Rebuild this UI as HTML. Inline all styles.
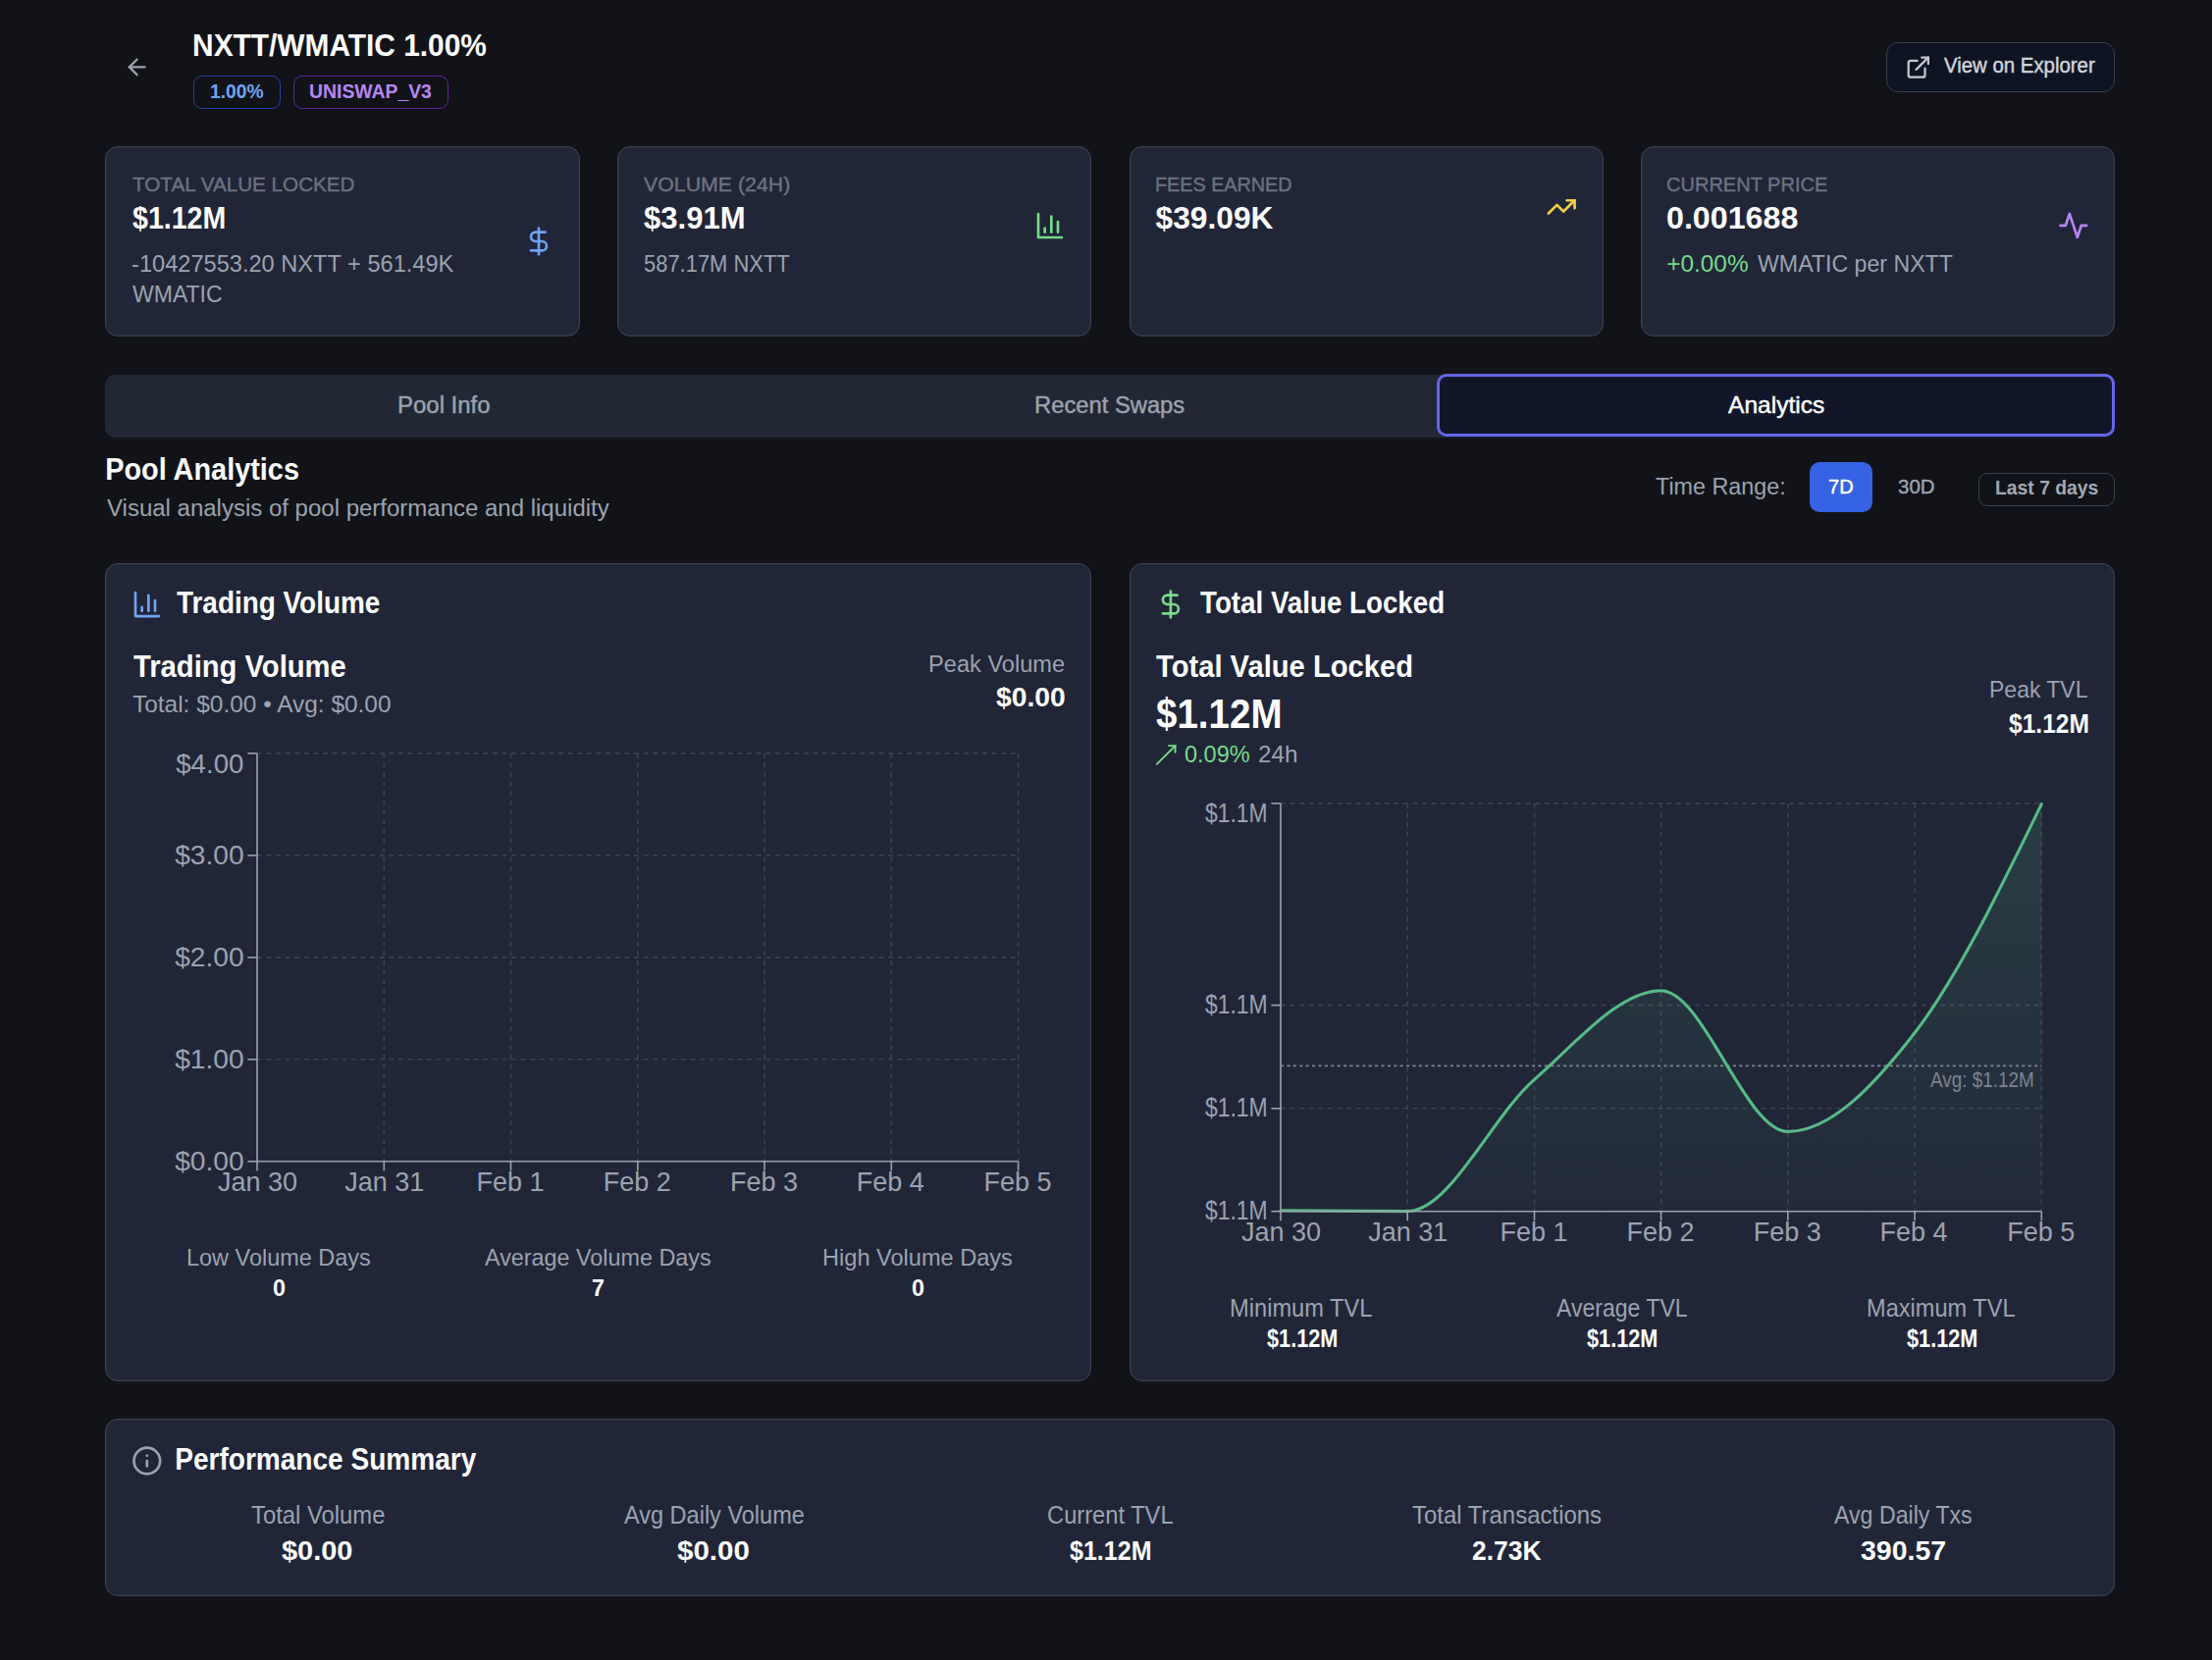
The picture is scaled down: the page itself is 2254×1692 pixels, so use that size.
<!DOCTYPE html>
<html><head><meta charset="utf-8"><style>
html,body{margin:0;padding:0;}
body{width:2254px;height:1692px;background:#111318;position:relative;overflow:hidden;font-family:"Liberation Sans",sans-serif;}
.b{position:absolute;box-sizing:border-box;}
.card{background:#202538;border:1px solid #3a4151;box-shadow:inset 0 0 0 0.6px #2e3546;border-radius:12.8px;}
span{position:absolute;white-space:pre;line-height:1;}
svg{position:absolute;left:0;top:0;}
</style></head><body>

<div class="b" style="left:197.2px;top:77px;width:88.5px;height:33.6px;border:1.6px solid #263fa9;border-radius:9px;"></div>
<div class="b" style="left:299px;top:77px;width:158px;height:33.6px;border:1.6px solid #6326a2;border-radius:9px;"></div>
<div class="b" style="left:1922px;top:43px;width:232.7px;height:50.8px;border:1.6px solid #3a4150;background:#0f1424;border-radius:12px;"></div>
<div class="b card" style="left:107px;top:149px;width:484px;height:194px;"></div>
<div class="b card" style="left:628.6px;top:149px;width:483.4px;height:194px;"></div>
<div class="b card" style="left:1151px;top:149px;width:483px;height:194px;"></div>
<div class="b card" style="left:1672px;top:149px;width:483px;height:194px;"></div>

<div class="b" style="left:107px;top:381.9px;width:2048px;height:63.9px;background:#212735;border-radius:10px;"></div>
<div class="b" style="left:1464.4px;top:381.4px;width:690.4px;height:64.1px;border:3.5px solid #6466e9;background:#111629;border-radius:10px;"></div>
<div class="b" style="left:1844px;top:471px;width:63.8px;height:50.9px;background:#3662e3;border-radius:10px;"></div>
<div class="b" style="left:2016.3px;top:482px;width:138.4px;height:33.6px;border:1.6px solid #3a4150;border-radius:9px;"></div>
<div class="b card" style="left:107px;top:574px;width:1005px;height:833.5px;"></div>
<div class="b card" style="left:1151px;top:574px;width:1004px;height:833.5px;"></div>
<div class="b card" style="left:107px;top:1446.3px;width:2048px;height:181px;"></div>

<svg width="2254" height="1692" viewBox="0 0 2254 1692"><defs><linearGradient id="tvlg" x1="0" y1="819" x2="0" y2="1234.4" gradientUnits="userSpaceOnUse"><stop offset="0" stop-color="#55b685" stop-opacity="0.17"/><stop offset="1" stop-color="#55b685" stop-opacity="0.03"/></linearGradient></defs>
<line x1="262" y1="767.9" x2="1037.6" y2="767.9" stroke="#3a4151" stroke-width="1.6" stroke-dasharray="4.8 4.8" />
<line x1="262" y1="871.9" x2="1037.6" y2="871.9" stroke="#3a4151" stroke-width="1.6" stroke-dasharray="4.8 4.8" />
<line x1="262" y1="975.9" x2="1037.6" y2="975.9" stroke="#3a4151" stroke-width="1.6" stroke-dasharray="4.8 4.8" />
<line x1="262" y1="1079.8" x2="1037.6" y2="1079.8" stroke="#3a4151" stroke-width="1.6" stroke-dasharray="4.8 4.8" />
<line x1="391.3" y1="767.9" x2="391.3" y2="1183.8" stroke="#3a4151" stroke-width="1.6" stroke-dasharray="4.8 4.8" />
<line x1="520.5" y1="767.9" x2="520.5" y2="1183.8" stroke="#3a4151" stroke-width="1.6" stroke-dasharray="4.8 4.8" />
<line x1="649.8" y1="767.9" x2="649.8" y2="1183.8" stroke="#3a4151" stroke-width="1.6" stroke-dasharray="4.8 4.8" />
<line x1="779" y1="767.9" x2="779" y2="1183.8" stroke="#3a4151" stroke-width="1.6" stroke-dasharray="4.8 4.8" />
<line x1="908.3" y1="767.9" x2="908.3" y2="1183.8" stroke="#3a4151" stroke-width="1.6" stroke-dasharray="4.8 4.8" />
<line x1="1037.6" y1="767.9" x2="1037.6" y2="1183.8" stroke="#3a4151" stroke-width="1.6" stroke-dasharray="4.8 4.8" />
<line x1="262" y1="767.9" x2="262" y2="1183.8" stroke="#9ca3af" stroke-width="1.6" />
<line x1="262" y1="1183.8" x2="1037.6" y2="1183.8" stroke="#9ca3af" stroke-width="1.6" />
<line x1="252.4" y1="767.9" x2="262" y2="767.9" stroke="#9ca3af" stroke-width="1.6" />
<line x1="252.4" y1="871.9" x2="262" y2="871.9" stroke="#9ca3af" stroke-width="1.6" />
<line x1="252.4" y1="975.9" x2="262" y2="975.9" stroke="#9ca3af" stroke-width="1.6" />
<line x1="252.4" y1="1079.8" x2="262" y2="1079.8" stroke="#9ca3af" stroke-width="1.6" />
<line x1="252.4" y1="1183.8" x2="262" y2="1183.8" stroke="#9ca3af" stroke-width="1.6" />
<line x1="262" y1="1183.8" x2="262" y2="1193.4" stroke="#9ca3af" stroke-width="1.6" />
<line x1="391.3" y1="1183.8" x2="391.3" y2="1193.4" stroke="#9ca3af" stroke-width="1.6" />
<line x1="520.5" y1="1183.8" x2="520.5" y2="1193.4" stroke="#9ca3af" stroke-width="1.6" />
<line x1="649.8" y1="1183.8" x2="649.8" y2="1193.4" stroke="#9ca3af" stroke-width="1.6" />
<line x1="779" y1="1183.8" x2="779" y2="1193.4" stroke="#9ca3af" stroke-width="1.6" />
<line x1="908.3" y1="1183.8" x2="908.3" y2="1193.4" stroke="#9ca3af" stroke-width="1.6" />
<line x1="1037.6" y1="1183.8" x2="1037.6" y2="1193.4" stroke="#9ca3af" stroke-width="1.6" />
<line x1="1305" y1="818.9" x2="2080.3" y2="818.9" stroke="#3a4151" stroke-width="1.6" stroke-dasharray="4.8 4.8" />
<line x1="1305" y1="1024.6" x2="2080.3" y2="1024.6" stroke="#3a4151" stroke-width="1.6" stroke-dasharray="4.8 4.8" />
<line x1="1305" y1="1129.8" x2="2080.3" y2="1129.8" stroke="#3a4151" stroke-width="1.6" stroke-dasharray="4.8 4.8" />
<line x1="1434.2" y1="819" x2="1434.2" y2="1234.4" stroke="#3a4151" stroke-width="1.6" stroke-dasharray="4.8 4.8" />
<line x1="1563.5" y1="819" x2="1563.5" y2="1234.4" stroke="#3a4151" stroke-width="1.6" stroke-dasharray="4.8 4.8" />
<line x1="1692.6" y1="819" x2="1692.6" y2="1234.4" stroke="#3a4151" stroke-width="1.6" stroke-dasharray="4.8 4.8" />
<line x1="1821.8" y1="819" x2="1821.8" y2="1234.4" stroke="#3a4151" stroke-width="1.6" stroke-dasharray="4.8 4.8" />
<line x1="1951.1" y1="819" x2="1951.1" y2="1234.4" stroke="#3a4151" stroke-width="1.6" stroke-dasharray="4.8 4.8" />
<line x1="2080.3" y1="819" x2="2080.3" y2="1234.4" stroke="#3a4151" stroke-width="1.6" stroke-dasharray="4.8 4.8" />
<path d="M1305.00,1233.70C1348.07,1234.15 1391.13,1234.60 1434.20,1234.60C1477.30,1234.60 1520.40,1137.78 1563.50,1100.30C1606.53,1062.87 1649.57,1009.80 1692.60,1009.80C1735.67,1009.80 1778.73,1153.40 1821.80,1153.40C1864.90,1153.40 1908.00,1108.39 1951.10,1052.70C1994.17,997.05 2037.23,908.28 2080.30,819.50L2080.30,1234.4L1305.00,1234.4Z" fill="url(#tvlg)" stroke="none"/>
<line x1="1305" y1="1086.3" x2="2080.3" y2="1086.3" stroke="#7f8592" stroke-width="1.8" stroke-dasharray="3.2 3.2" />
<path d="M1305.00,1233.70C1348.07,1234.15 1391.13,1234.60 1434.20,1234.60C1477.30,1234.60 1520.40,1137.78 1563.50,1100.30C1606.53,1062.87 1649.57,1009.80 1692.60,1009.80C1735.67,1009.80 1778.73,1153.40 1821.80,1153.40C1864.90,1153.40 1908.00,1108.39 1951.10,1052.70C1994.17,997.05 2037.23,908.28 2080.30,819.50" fill="none" stroke="#55bb88" stroke-width="3.1" stroke-linejoin="round" stroke-linecap="round"/>
<line x1="1305" y1="818.9" x2="1305" y2="1234.7" stroke="#9ca3af" stroke-width="1.6" />
<line x1="1305" y1="1234.7" x2="2080.3" y2="1234.7" stroke="#9ca3af" stroke-width="1.6" />
<line x1="1295.4" y1="818.9" x2="1305" y2="818.9" stroke="#9ca3af" stroke-width="1.6" />
<line x1="1295.4" y1="1024.6" x2="1305" y2="1024.6" stroke="#9ca3af" stroke-width="1.6" />
<line x1="1295.4" y1="1129.8" x2="1305" y2="1129.8" stroke="#9ca3af" stroke-width="1.6" />
<line x1="1295.4" y1="1234.7" x2="1305" y2="1234.7" stroke="#9ca3af" stroke-width="1.6" />
<line x1="1305" y1="1234.7" x2="1305" y2="1244.3" stroke="#9ca3af" stroke-width="1.6" />
<line x1="1434.2" y1="1234.7" x2="1434.2" y2="1244.3" stroke="#9ca3af" stroke-width="1.6" />
<line x1="1563.5" y1="1234.7" x2="1563.5" y2="1244.3" stroke="#9ca3af" stroke-width="1.6" />
<line x1="1692.6" y1="1234.7" x2="1692.6" y2="1244.3" stroke="#9ca3af" stroke-width="1.6" />
<line x1="1821.8" y1="1234.7" x2="1821.8" y2="1244.3" stroke="#9ca3af" stroke-width="1.6" />
<line x1="1951.1" y1="1234.7" x2="1951.1" y2="1244.3" stroke="#9ca3af" stroke-width="1.6" />
<line x1="2080.3" y1="1234.7" x2="2080.3" y2="1244.3" stroke="#9ca3af" stroke-width="1.6" />
<g transform="translate(126.13999999999999,54.84) scale(1.1291666666666667)" fill="none" stroke="#9ca3af" stroke-width="2" stroke-linecap="round" stroke-linejoin="round"><path d="m12 19-7-7 7-7"/><path d="M19 12H5"/></g>
<g transform="translate(1941.36,55.16) scale(1.1208333333333333)" fill="none" stroke="#c6cad2" stroke-width="2" stroke-linecap="round" stroke-linejoin="round"><path d="M15 3h6v6"/><path d="M10 14 21 3"/><path d="M18 13v6a2 2 0 0 1-2 2H5a2 2 0 0 1-2-2V8a2 2 0 0 1 2-2h6"/></g>
<g transform="translate(533,230) scale(1.3333333333333333)" fill="none" stroke="#70a3f3" stroke-width="2" stroke-linecap="round" stroke-linejoin="round"><line x1="12" x2="12" y1="2" y2="22"/><path d="M17 5H9.5a3.5 3.5 0 0 0 0 7h5a3.5 3.5 0 0 1 0 7H6"/></g>
<g transform="translate(1054,214) scale(1.3333333333333333)" fill="none" stroke="#77db89" stroke-width="2" stroke-linecap="round" stroke-linejoin="round"><path d="M3 3v18h18"/><path d="M18 17V9"/><path d="M13 17V5"/><path d="M8 17v-3"/></g>
<g transform="translate(1575.2,194.9) scale(1.3333333333333333)" fill="none" stroke="#f3ce49" stroke-width="2" stroke-linecap="round" stroke-linejoin="round"><polyline points="22 7 13.5 15.5 8.5 10.5 2 17"/><polyline points="16 7 22 7 22 13"/></g>
<g transform="translate(2096.8,213.9) scale(1.3333333333333333)" fill="none" stroke="#b787f5" stroke-width="2" stroke-linecap="round" stroke-linejoin="round"><polyline points="22 12 18 12 15 21 9 3 6 12 2 12"/></g>
<g transform="translate(134,600.1) scale(1.3333333333333333)" fill="none" stroke="#70a3f3" stroke-width="2" stroke-linecap="round" stroke-linejoin="round"><path d="M3 3v18h18"/><path d="M18 17V9"/><path d="M13 17V5"/><path d="M8 17v-3"/></g>
<g transform="translate(1176.9,600) scale(1.3333333333333333)" fill="none" stroke="#77db89" stroke-width="2" stroke-linecap="round" stroke-linejoin="round"><line x1="12" x2="12" y1="2" y2="22"/><path d="M17 5H9.5a3.5 3.5 0 0 0 0 7h5a3.5 3.5 0 0 1 0 7H6"/></g>
<g transform="translate(133.8,1473) scale(1.3333333333333333)" fill="none" stroke="#9ca3af" stroke-width="2" stroke-linecap="round" stroke-linejoin="round"><circle cx="12" cy="12" r="10"/><path d="M12 16v-4"/><path d="M12 8h.01"/></g>
<g stroke="#77db89" stroke-width="1.9" stroke-linecap="round" fill="none"><path d="M1178.8,778.9 L1197.6,760.1"/><path d="M1191,760.1 H1197.6 V766.7"/></g>
</svg>
<span style="left:195.80px;top:31.79px;font-size:30.96px;font-weight:700;color:#ffffff;transform:scaleX(0.9648);transform-origin:2.00px 0;">NXTT/WMATIC 1.00%</span>
<span style="left:213.50px;top:82.87px;font-size:20.35px;font-weight:600;color:#70a3f3;transform:scaleX(0.9458);transform-origin:1.00px 0;">1.00%</span>
<span style="left:315.40px;top:82.87px;font-size:20.35px;font-weight:600;color:#b787f5;transform:scaleX(0.9519);transform-origin:1.00px 0;">UNISWAP_V3</span>
<span style="left:1981.40px;top:57.21px;font-size:21.37px;font-weight:500;color:#d1d5db;transform:scaleX(0.9543);transform-origin:0.00px 0;-webkit-text-stroke:0.45px currentColor;">View on Explorer</span>
<span style="left:134.50px;top:177.70px;font-size:20.78px;font-weight:500;color:#6b7280;transform:scaleX(0.9948);transform-origin:0.00px 0;-webkit-text-stroke:0.45px currentColor;">TOTAL VALUE LOCKED</span>
<span style="left:656.20px;top:177.70px;font-size:20.78px;font-weight:500;color:#6b7280;transform:scaleX(1.0265);transform-origin:0.00px 0;-webkit-text-stroke:0.45px currentColor;">VOLUME (24H)</span>
<span style="left:1176.60px;top:177.70px;font-size:20.78px;font-weight:500;color:#6b7280;transform:scaleX(0.9519);transform-origin:1.00px 0;-webkit-text-stroke:0.45px currentColor;">FEES EARNED</span>
<span style="left:1698.20px;top:177.70px;font-size:20.78px;font-weight:500;color:#6b7280;transform:scaleX(0.9639);transform-origin:1.00px 0;-webkit-text-stroke:0.45px currentColor;">CURRENT PRICE</span>
<span style="left:134.50px;top:207.17px;font-size:31.69px;font-weight:700;color:#ffffff;transform:scaleX(0.9016);transform-origin:0.00px 0;">$1.12M</span>
<span style="left:656.20px;top:207.17px;font-size:31.69px;font-weight:700;color:#ffffff;transform:scaleX(0.9793);transform-origin:0.00px 0;">$3.91M</span>
<span style="left:1177.60px;top:207.17px;font-size:31.69px;font-weight:700;color:#ffffff;">$39.09K</span>
<span style="left:1698.20px;top:207.17px;font-size:31.69px;font-weight:700;color:#ffffff;transform:scaleX(1.0162);transform-origin:1.00px 0;">0.001688</span>
<span style="left:133.50px;top:256.52px;font-size:24.42px;font-weight:400;color:#9ca3af;transform:scaleX(0.9672);transform-origin:1.00px 0;">-10427553.20 NXTT + 561.49K</span>
<span style="left:134.50px;top:287.95px;font-size:24.27px;font-weight:400;color:#9ca3af;transform:scaleX(0.9483);transform-origin:0.00px 0;">WMATIC</span>
<span style="left:656.20px;top:256.52px;font-size:24.42px;font-weight:400;color:#9ca3af;transform:scaleX(0.8987);transform-origin:0.00px 0;">587.17M NXTT</span>
<span style="left:1698.20px;top:256.52px;font-size:24.42px;font-weight:400;color:#77db89;">+0.00%</span>
<span style="left:1790.70px;top:256.52px;font-size:24.42px;font-weight:400;color:#9ca3af;transform:scaleX(0.9485);transform-origin:0.00px 0;">WMATIC per NXTT</span>
<span style="left:405.00px;top:401.12px;font-size:24.42px;font-weight:500;color:#9ca3af;transform:scaleX(0.9812);transform-origin:2.00px 0;-webkit-text-stroke:0.45px currentColor;">Pool Info</span>
<span style="left:1054.00px;top:401.12px;font-size:24.42px;font-weight:500;color:#9ca3af;transform:scaleX(0.9732);transform-origin:2.00px 0;-webkit-text-stroke:0.45px currentColor;">Recent Swaps</span>
<span style="left:1760.80px;top:401.45px;font-size:24.27px;font-weight:500;color:#ffffff;transform:scaleX(1.0127);transform-origin:0.00px 0;-webkit-text-stroke:0.45px currentColor;">Analytics</span>
<span style="left:106.50px;top:463.79px;font-size:30.96px;font-weight:700;color:#ffffff;transform:scaleX(0.9325);transform-origin:2.00px 0;">Pool Analytics</span>
<span style="left:108.50px;top:505.92px;font-size:24.42px;font-weight:400;color:#9ca3af;transform:scaleX(0.9831);transform-origin:0.00px 0;">Visual analysis of pool performance and liquidity</span>
<span style="left:1686.80px;top:484.12px;font-size:24.42px;font-weight:400;color:#9ca3af;transform:scaleX(0.9560);transform-origin:0.00px 0;">Time Range:</span>
<span style="left:1862.60px;top:486.05px;font-size:20.49px;font-weight:500;color:#ffffff;transform:scaleX(0.9798);transform-origin:1.00px 0;-webkit-text-stroke:0.45px currentColor;">7D</span>
<span style="left:1934.00px;top:486.05px;font-size:20.49px;font-weight:500;color:#9ca3af;-webkit-text-stroke:0.45px currentColor;">30D</span>
<span style="left:2033.00px;top:487.40px;font-size:20.78px;font-weight:600;color:#a3a9b4;transform:scaleX(0.9304);transform-origin:1.00px 0;">Last 7 days</span>
<span style="left:180.20px;top:599.49px;font-size:31.54px;font-weight:700;color:#ffffff;transform:scaleX(0.8851);transform-origin:0.00px 0;">Trading Volume</span>
<span style="left:135.50px;top:664.16px;font-size:30.52px;font-weight:700;color:#ffffff;transform:scaleX(0.9567);transform-origin:0.00px 0;">Trading Volume</span>
<span style="left:135.00px;top:706.38px;font-size:24.71px;font-weight:400;color:#9ca3af;transform:scaleX(0.9893);transform-origin:0.00px 0;">Total: $0.00 • Avg: $0.00</span>
<span style="left:946.10px;top:664.72px;font-size:24.42px;font-weight:400;color:#9ca3af;transform:scaleX(0.9671);transform-origin:2.00px 0;">Peak Volume</span>
<span style="left:1014.50px;top:697.37px;font-size:27.91px;font-weight:700;color:#ffffff;transform:scaleX(1.0132);transform-origin:0.00px 0;">$0.00</span>
<span style="left:179.26px;top:764.62px;font-size:27.62px;font-weight:400;color:#9ca3af;">$4.00</span>
<span style="left:178.14px;top:857.23px;font-size:28.20px;font-weight:400;color:#9ca3af;">$3.00</span>
<span style="left:178.14px;top:961.03px;font-size:28.20px;font-weight:400;color:#9ca3af;">$2.00</span>
<span style="left:178.14px;top:1065.13px;font-size:28.20px;font-weight:400;color:#9ca3af;">$1.00</span>
<span style="left:178.14px;top:1168.93px;font-size:28.20px;font-weight:400;color:#9ca3af;">$0.00</span>
<span style="left:221.96px;top:1192.01px;font-size:27.03px;font-weight:400;color:#9ca3af;">Jan 30</span>
<span style="left:351.26px;top:1192.01px;font-size:27.03px;font-weight:400;color:#9ca3af;">Jan 31</span>
<span style="left:485.47px;top:1192.01px;font-size:27.03px;font-weight:400;color:#9ca3af;">Feb 1</span>
<span style="left:614.77px;top:1192.01px;font-size:27.03px;font-weight:400;color:#9ca3af;">Feb 2</span>
<span style="left:743.97px;top:1192.01px;font-size:27.03px;font-weight:400;color:#9ca3af;">Feb 3</span>
<span style="left:872.77px;top:1192.01px;font-size:27.03px;font-weight:400;color:#9ca3af;">Feb 4</span>
<span style="left:1002.57px;top:1192.01px;font-size:27.03px;font-weight:400;color:#9ca3af;">Feb 5</span>
<span style="left:190.00px;top:1269.57px;font-size:24.13px;font-weight:400;color:#9ca3af;transform:scaleX(0.9718);transform-origin:1.00px 0;">Low Volume Days</span>
<span style="left:494.40px;top:1269.57px;font-size:24.13px;font-weight:400;color:#9ca3af;transform:scaleX(0.9683);transform-origin:0.00px 0;">Average Volume Days</span>
<span style="left:838.00px;top:1269.57px;font-size:24.13px;font-weight:400;color:#9ca3af;transform:scaleX(0.9768);transform-origin:1.00px 0;">High Volume Days</span>
<span style="left:277.72px;top:1301.40px;font-size:24.56px;font-weight:700;color:#ffffff;transform:scaleX(0.9500);transform-origin:0.00px 0;">0</span>
<span style="left:602.90px;top:1301.40px;font-size:24.56px;font-weight:700;color:#ffffff;transform:scaleX(0.9500);transform-origin:1.00px 0;">7</span>
<span style="left:929.12px;top:1301.40px;font-size:24.56px;font-weight:700;color:#ffffff;transform:scaleX(0.9500);transform-origin:0.00px 0;">0</span>
<span style="left:1223.00px;top:599.49px;font-size:31.54px;font-weight:700;color:#ffffff;transform:scaleX(0.8794);transform-origin:0.00px 0;">Total Value Locked</span>
<span style="left:1178.40px;top:664.16px;font-size:30.52px;font-weight:700;color:#ffffff;transform:scaleX(0.9556);transform-origin:0.00px 0;">Total Value Locked</span>
<span style="left:1178.40px;top:705.82px;font-size:42.73px;font-weight:700;color:#ffffff;transform:scaleX(0.9021);transform-origin:0.00px 0;">$1.12M</span>
<span style="left:1206.70px;top:757.08px;font-size:24.71px;font-weight:400;color:#77db89;transform:scaleX(0.9522);transform-origin:0.00px 0;">0.09%</span>
<span style="left:1281.90px;top:757.08px;font-size:24.71px;font-weight:400;color:#9ca3af;transform:scaleX(0.9782);transform-origin:1.00px 0;">24h</span>
<span style="left:2027.20px;top:690.77px;font-size:24.13px;font-weight:400;color:#9ca3af;transform:scaleX(0.9516);transform-origin:1.00px 0;">Peak TVL</span>
<span style="left:2046.60px;top:723.62px;font-size:27.62px;font-weight:700;color:#ffffff;transform:scaleX(0.8892);transform-origin:0.00px 0;">$1.12M</span>
<span style="left:1227.80px;top:815.25px;font-size:28.05px;font-weight:400;color:#9ca3af;transform:scaleX(0.8148);transform-origin:0.00px 0;">$1.1M</span>
<span style="left:1227.80px;top:1010.93px;font-size:26.89px;font-weight:400;color:#9ca3af;transform:scaleX(0.8512);transform-origin:0.00px 0;">$1.1M</span>
<span style="left:1227.80px;top:1116.33px;font-size:26.89px;font-weight:400;color:#9ca3af;transform:scaleX(0.8512);transform-origin:0.00px 0;">$1.1M</span>
<span style="left:1227.80px;top:1220.81px;font-size:27.03px;font-weight:400;color:#9ca3af;transform:scaleX(0.8481);transform-origin:0.00px 0;">$1.1M</span>
<span style="left:1264.96px;top:1243.41px;font-size:27.03px;font-weight:400;color:#9ca3af;">Jan 30</span>
<span style="left:1394.16px;top:1243.41px;font-size:27.03px;font-weight:400;color:#9ca3af;">Jan 31</span>
<span style="left:1528.47px;top:1243.41px;font-size:27.03px;font-weight:400;color:#9ca3af;">Feb 1</span>
<span style="left:1657.57px;top:1243.41px;font-size:27.03px;font-weight:400;color:#9ca3af;">Feb 2</span>
<span style="left:1786.77px;top:1243.41px;font-size:27.03px;font-weight:400;color:#9ca3af;">Feb 3</span>
<span style="left:1915.57px;top:1243.41px;font-size:27.03px;font-weight:400;color:#9ca3af;">Feb 4</span>
<span style="left:2045.27px;top:1243.41px;font-size:27.03px;font-weight:400;color:#9ca3af;">Feb 5</span>
<span style="left:1967.40px;top:1090.45px;font-size:22.38px;font-weight:400;color:#7d8491;transform:scaleX(0.8448);transform-origin:0.00px 0;">Avg: $1.12M</span>
<span style="left:1253.00px;top:1320.83px;font-size:25.00px;font-weight:400;color:#9ca3af;transform:scaleX(0.9449);transform-origin:2.00px 0;">Minimum TVL</span>
<span style="left:1585.60px;top:1320.83px;font-size:25.00px;font-weight:400;color:#9ca3af;transform:scaleX(0.9213);transform-origin:0.00px 0;">Average TVL</span>
<span style="left:1901.60px;top:1320.83px;font-size:25.00px;font-weight:400;color:#9ca3af;transform:scaleX(0.9420);transform-origin:2.00px 0;">Maximum TVL</span>
<span style="left:1291.40px;top:1351.92px;font-size:25.73px;font-weight:700;color:#ffffff;transform:scaleX(0.8440);transform-origin:0.00px 0;">$1.12M</span>
<span style="left:1617.10px;top:1351.92px;font-size:25.73px;font-weight:700;color:#ffffff;transform:scaleX(0.8440);transform-origin:0.00px 0;">$1.12M</span>
<span style="left:1943.00px;top:1351.92px;font-size:25.73px;font-weight:700;color:#ffffff;transform:scaleX(0.8440);transform-origin:0.00px 0;">$1.12M</span>
<span style="left:177.70px;top:1471.66px;font-size:31.10px;font-weight:700;color:#ffffff;transform:scaleX(0.9019);transform-origin:2.00px 0;">Performance Summary</span>
<span style="left:255.60px;top:1532.96px;font-size:24.85px;font-weight:400;color:#9ca3af;transform:scaleX(0.9588);transform-origin:0.00px 0;">Total Volume</span>
<span style="left:635.50px;top:1532.96px;font-size:24.85px;font-weight:400;color:#9ca3af;transform:scaleX(0.9461);transform-origin:0.00px 0;">Avg Daily Volume</span>
<span style="left:1067.00px;top:1532.96px;font-size:24.85px;font-weight:400;color:#9ca3af;transform:scaleX(0.9529);transform-origin:1.00px 0;">Current TVL</span>
<span style="left:1438.90px;top:1532.96px;font-size:24.85px;font-weight:400;color:#9ca3af;transform:scaleX(0.9643);transform-origin:0.00px 0;">Total Transactions</span>
<span style="left:1869.30px;top:1532.96px;font-size:24.85px;font-weight:400;color:#9ca3af;transform:scaleX(0.9319);transform-origin:0.00px 0;">Avg Daily Txs</span>
<span style="left:287.30px;top:1565.80px;font-size:28.34px;font-weight:700;color:#ffffff;transform:scaleX(1.0223);transform-origin:0.00px 0;">$0.00</span>
<span style="left:690.40px;top:1565.80px;font-size:28.34px;font-weight:700;color:#ffffff;transform:scaleX(1.0423);transform-origin:0.00px 0;">$0.00</span>
<span style="left:1090.30px;top:1565.80px;font-size:28.34px;font-weight:700;color:#ffffff;transform:scaleX(0.8838);transform-origin:0.00px 0;">$1.12M</span>
<span style="left:1499.90px;top:1565.80px;font-size:28.34px;font-weight:700;color:#ffffff;transform:scaleX(0.9339);transform-origin:0.00px 0;">2.73K</span>
<span style="left:1896.30px;top:1565.80px;font-size:28.34px;font-weight:700;color:#ffffff;transform:scaleX(1.0048);transform-origin:0.00px 0;">390.57</span>
</body></html>
